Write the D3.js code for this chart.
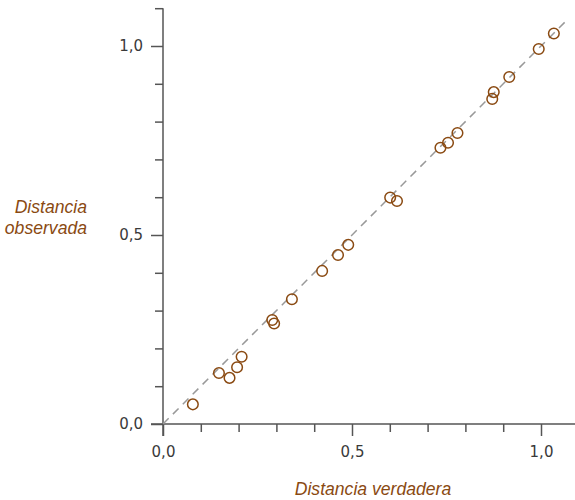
<!DOCTYPE html>
<html>
<head>
<meta charset="utf-8">
<script src="https://cdn.jsdelivr.net/npm/d3@7"></script>
<style>
  body { margin: 0; background: #fff; }
  svg { display: block; }
  .tick text { font-family: "DejaVu Sans", sans-serif; font-size: 15px; fill: #3a3a3a; }
  .title { font-family: "Liberation Sans", Arial, sans-serif; font-size: 17.6px; font-style: italic; fill: #8a4a12; }
</style>
</head>
<body>
<div id="chart"></div>
<script>
// data
var trueDist = [0.079, 0.148, 0.176, 0.196, 0.208, 0.289, 0.294, 0.341, 0.421, 0.463, 0.490,
                0.601, 0.619, 0.734, 0.754, 0.779, 0.871, 0.875, 0.916, 0.994, 1.034];
var obsDist  = [0.052, 0.135, 0.122, 0.150, 0.178, 0.275, 0.266, 0.330, 0.405, 0.447, 0.474,
                0.599, 0.590, 0.731, 0.744, 0.770, 0.860, 0.878, 0.918, 0.992, 1.033];
var majorTicks = [0, 0.5, 1.0];
var minorTicks = [0.1, 0.2, 0.3, 0.4, 0.6, 0.7, 0.8, 0.9, 1.1];
var refLine = [0, 1.07];

var W = 575, H = 500;
var margin = {top: 8, right: 0, bottom: 76, left: 163};
var width = W - margin.left - margin.right,
    height = H - margin.top - margin.bottom;

var svg = d3.select("#chart").append("svg")
    .attr("width", W)
    .attr("height", H);

var g = svg.append("g")
    .attr("transform", "translate(" + margin.left + "," + margin.top + ")");

// same scale both ways, 378 px per unit
var x = d3.scaleLinear().domain([0, width / 378]).range([0, width]);
var y = d3.scaleLinear().domain([0, height / 378]).range([height, 0]);

var fmt = function(d) { return d3.format(".1f")(d).replace(".", ","); };

// x axis
var gx = g.append("g").attr("transform", "translate(0," + height + ")");
gx.append("g").call(d3.axisBottom(x).tickValues(minorTicks).tickSize(8).tickFormat(""))
  .call(function(s) { s.select(".domain").remove(); });
gx.append("g").call(d3.axisBottom(x).tickValues(majorTicks).tickSize(12).tickPadding(10).tickFormat(fmt))
  .call(function(s) { s.select(".domain").remove(); });
gx.append("line")
  .attr("x1", -12).attr("x2", width)
  .attr("stroke", "#555").attr("stroke-width", 1.5);

// y axis
var gy = g.append("g");
gy.append("g").call(d3.axisLeft(y).tickValues(minorTicks).tickSize(8).tickFormat(""))
  .call(function(s) { s.select(".domain").remove(); });
gy.append("g").call(d3.axisLeft(y).tickValues(majorTicks).tickSize(12).tickPadding(8).tickFormat(fmt))
  .call(function(s) { s.select(".domain").remove(); });
gy.append("line")
  .attr("y1", y(1.1)).attr("y2", height + 12)
  .attr("stroke", "#555").attr("stroke-width", 1.5);

g.selectAll(".tick line").attr("stroke", "#555").attr("stroke-width", 1.5);

// reference line y = x
g.append("line")
  .attr("x1", x(refLine[0])).attr("y1", y(refLine[0]))
  .attr("x2", x(refLine[1])).attr("y2", y(refLine[1]))
  .attr("stroke", "#999")
  .attr("stroke-width", 1.5)
  .attr("stroke-dasharray", "8,6");

// points
g.append("g")
  .selectAll("circle")
  .data(trueDist)
  .enter()
  .append("circle")
    .attr("cx", function(d) { return x(d); })
    .attr("cy", function(d, i) { return y(obsDist[i]); })
    .attr("r", 5.3)
    .attr("fill", "none")
    .attr("stroke", "#8a4a12")
    .attr("stroke-width", 1.5);

// titles
svg.append("text")
  .attr("class", "title")
  .attr("text-anchor", "middle")
  .attr("x", 373)
  .attr("y", 495)
  .text("Distancia verdadera");

var yt = svg.append("text")
  .attr("class", "title")
  .attr("text-anchor", "end");
yt.append("tspan").attr("x", 87).attr("y", 213).text("Distancia");
yt.append("tspan").attr("x", 87).attr("y", 234).text("observada");
</script>
</body>
</html>
